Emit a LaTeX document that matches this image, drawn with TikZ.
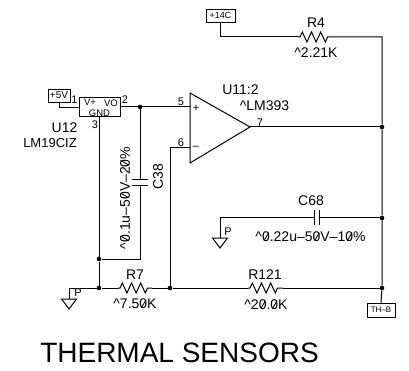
\documentclass[tikz,border=0pt]{standalone}
\usepackage{graphicx}
\usepackage{fontspec}
\setmainfont{Liberation Sans}
\newcommand\zr{\rlap{\kern.12em\raisebox{.07em}{\rotatebox{60}{\rule{.66em}{.06em}}}}0}
\newcommand\pxf[1]{\fontsize{#1}{#1}\selectfont}
\newcommand\resz[2]{\draw[wire] (#1) -- ++(2,0) -- ++(2.3,-5) -- ++(4.6,10) -- ++(4.6,-10) -- ++(4.6,10) -- ++(4.6,-10) -- ++(4.6,10) -- ++(2.3,-5) -- (#2);}
\tikzset{
  x=1pt,y=-1pt,
  wire/.style={line width=1pt,line join=miter},
  conn/.style={draw,line width=0.9pt,inner sep=0pt,minimum height=13pt},
  lab/.style={inner sep=0pt,font=\pxf{14}},
  sm/.style={inner sep=0pt,font=\pxf{11}},
  tiny/.style={inner sep=0pt,font=\pxf{9.5}},
  junc/.style={circle,fill=black,inner sep=0pt,minimum size=4.6pt}
}
\begin{document}
\begin{tikzpicture}
\useasboundingbox (0,0) rectangle (409,371);
% connectors and boxes
\node[conn,minimum width=22pt,font=\pxf{10}] (p5) at (59,95.5) {+5V};
\node[conn,minimum width=29pt,font=\pxf{9}] (p14) at (220.5,15.5) {+14C};
\node[conn,minimum width=28pt,minimum height=14pt,font=\pxf{8}] (thb) at (381,310) {TH–B};
\node[draw,line width=1pt,minimum width=41pt,minimum height=19pt,inner sep=0pt] (u12) at (99.5,107.5) {};
\node[tiny] (tv) at (90,102.5) {V+};
\node[tiny] (tvo) at (111,103) {VO};
\node[tiny] (tg) at (99.5,113) {GND};
% op amp
\coordinate (oa) at (190,93);
\coordinate (ob) at (190,163);
\coordinate (oc) at (250,127);
\draw[wire] (oa) -- (oc) -- (ob) -- cycle;
% junctions
\node[junc] (j1) at (140,107) {};
\node[junc] (j2) at (99,259) {};
\node[junc] (j3) at (99,288) {};
\node[junc] (j4) at (170,288) {};
\node[junc] (j5) at (382,127) {};
\node[junc] (j6) at (382,218) {};
\node[junc] (j7) at (382,288) {};
% helper coordinates
\coordinate (top) at (382,37);
\coordinate (ip) at (190,107);
\coordinate (im) at (190,148);
\coordinate (gu) at (99,117);
\coordinate (c38a) at (140,180);
\coordinate (c38b) at (140,186);
\coordinate (c68a) at (314,218);
\coordinate (c68b) at (319,218);
\coordinate (r4a) at (298,37);
\coordinate (r4b) at (334,37);
\coordinate (r7a) at (118,288);
\coordinate (r7b) at (152,288);
\coordinate (r121a) at (248,288);
\coordinate (r121b) at (283,288);
\coordinate (g1) at (69,299);
\coordinate (g2) at (220,238);
% wires
\draw[wire] (p5.south) |- (u12.west);
\draw[wire] (u12.east |- ip) -- (ip);
\draw[wire] (j1) -- (c38a);
\draw[wire] (c38b) -- (140,259) -- (j2);
\draw[wire] (c38a) ++(-8,0) -- ++(16,0);
\draw[wire] (c38b) ++(-8,0) -- ++(16,0);
\draw[wire] (gu) -- (j2) -- (j3);
\draw[wire] (j4) |- (im);
\draw[wire] (oc) -- (j5);
\draw[wire] (p14.south) |- (r4a);
\draw[wire] (r4b) -- (top) -- (j5) -- (j6) -- (j7) -- (thb.north);
\draw[wire] (j3) -- (r7a);
\draw[wire] (r7b) -- (j4) -- (r121a);
\draw[wire] (r121b) -- (j7);
\resz{r4a}{r4b}
\resz{r7a}{r7b}
\resz{r121a}{r121b}
\draw[wire] (j6) -- (c68b);
\draw[wire] (c68a) -- ++(-94,0) -- (g2);
\draw[wire] (c68a) ++(0,-7.5) -- ++(0,15);
\draw[wire] (c68b) ++(0,-7.5) -- ++(0,15);
\draw[wire] (j3) -| (g1);
\draw[wire] (g1) ++(-7.5,0) -- ++(15,0) -- ++(-7.5,10) -- cycle;
\draw[wire] (g2) ++(-7.5,0) -- ++(15,0) -- ++(-7.5,10) -- cycle;
% labels
\node[sm] (n1) at (74.5,100) {1};
\node[sm] (n2) at (125,100) {2};
\node[sm] (n3) at (95,125) {3};
\node[sm] (n5) at (181,102) {5};
\node[sm] (n6) at (181,143) {6};
\node[sm] (n7) at (260,123) {7};
\node[sm] (plus) at (196,108) {+};
\node[sm] (minus) at (196,148) {–};
\node[lab] (lu12) at (64.5,128) {U12};
\node[lab,font=\pxf{13}] (lm19) at (50,143) {LM19CIZ};
\node[lab] (lu11) at (240.5,90) {U11:2};
\node[lab] (lm393) at (264.5,106) {\^{}LM393};
\node[lab] (lr4) at (316,23) {R4};
\node[lab] (v4) at (316,53) {\^{}2.21K};
\node[lab,rotate=90] (lc38) at (158,177) {C38};
\node[lab,rotate=90] (v38) at (125,198) {\^{}\zr.1u–5\zr V–2\zr\%};
\node[lab] (lr7) at (135,275) {R7};
\node[lab] (v7) at (135,304) {\^{}7.5\zr K};
\node[lab] (lc68) at (311,201) {C68};
\node[lab] (v68) at (310.5,237) {\^{}\zr.22u–5\zr V–1\zr\%};
\node[lab] (lr121) at (265,275) {R121};
\node[lab] (v121) at (266,305) {\^{}2\zr.\zr K};
\node[sm] (pa) at (78,293) {P};
\node[sm] (pb) at (228,232) {P};
\node[inner sep=0pt,font=\pxf{28}] (title) at (179.5,353) {THERMAL SENSORS};
\end{tikzpicture}
\end{document}
